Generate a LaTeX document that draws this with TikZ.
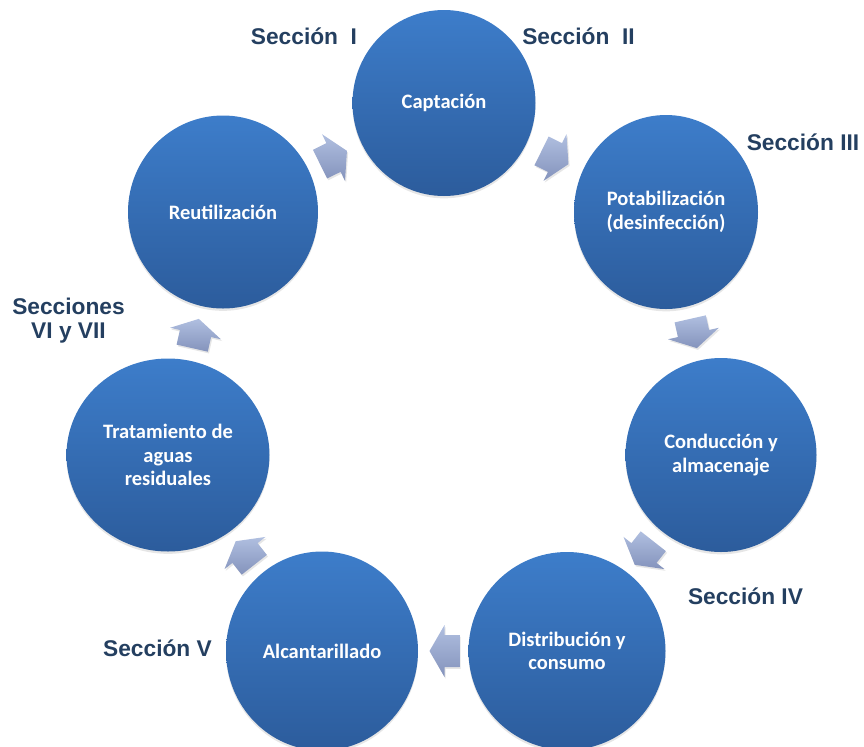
\documentclass[tikz,border=0pt]{standalone}
\usepackage{fontspec}
\usepackage{tikz}
\usetikzlibrary{calc,shapes.geometric,shadows}
\newfontfamily\etapafont{Carlito}
\newfontfamily\seccionfont{Liberation Sans}
\definecolor{etapaarriba}{HTML}{3D7DCA}
\definecolor{etapaabajo}{HTML}{2C5C9C}
\definecolor{flechaarriba}{HTML}{B0BFE0}
\definecolor{flechaabajo}{HTML}{8493BC}
\definecolor{seccioncolor}{HTML}{243F60}

\begin{document}
\begin{tikzpicture}[x=0.03cm,y=-0.03cm,
    etapa/.style={ellipse,inner sep=0pt,top color=etapaarriba,bottom color=etapaabajo,
      drop shadow={opacity=0.2,shadow xshift=0pt,shadow yshift=-2pt},
      text=white,align=center,font=\etapafont\bfseries\fontsize{17.5}{20}\selectfont},
    seccion/.style={text=seccioncolor,align=center,font=\seccionfont\bfseries\fontsize{19.4}{21}\selectfont},
    flecha/.pic={\shade[top color=flechaarriba,bottom color=flechaabajo,
        drop shadow={opacity=0.2,shadow xshift=1pt,shadow yshift=-1.5pt}]
      (-15,-16) -- (0,-16) -- (0,-26) -- (15,0) -- (0,26) -- (0,16) -- (-15,16) -- cycle;}]
  \useasboundingbox (0,0) rectangle (864,746);
  \node[etapa,minimum width=183*0.03cm,minimum height=186*0.03cm] (capt) at (444,103) {Captación};
  \node[etapa,minimum width=184*0.03cm,minimum height=194*0.03cm] (potab) at (666,212) {Potabilización\\(desinfección)};
  \node[etapa,minimum width=191*0.03cm,minimum height=194*0.03cm] (cond) at (721,455) {Conducción y\\almacenaje};
  \node[etapa,minimum width=197*0.03cm,minimum height=198*0.03cm] (dist) at (567,651) {Distribución y\\consumo};
  \node[etapa,minimum width=192*0.03cm,minimum height=199*0.03cm] (alc) at (322,651) {Alcantarillado};
  \node[etapa,minimum width=203*0.03cm,minimum height=193*0.03cm] (trat) at (168,455) {Tratamiento de\\aguas\\residuales};
  \node[etapa,minimum width=190*0.03cm,minimum height=193*0.03cm] (reut) at (223,212) {Reutilización};
  \foreach \a/\b in {reut/capt,capt/potab,potab/cond,cond/dist,dist/alc,alc/trat,trat/reut}
    \path let \p1=($(\b)-(\a)$), \n1={atan2(\y1,\x1)} in
      pic[rotate=\n1] at ($(\a)!0.5!(\b)$) {flecha};
  \node[seccion] (secI) at (304,36) {Sección\ \ I};
  \node[seccion] (secII) at (578.5,36) {Sección\ \ II};
  \node[seccion] (secIII) at (803,142) {Sección III};
  \node[seccion] (secIV) at (745.5,596) {Sección IV};
  \node[seccion] (secV) at (157.5,648) {Sección V};
  \node[seccion] (secVI) at (68.5,320.5) {Secciones\\VI y VII};
\end{tikzpicture}
\end{document}
